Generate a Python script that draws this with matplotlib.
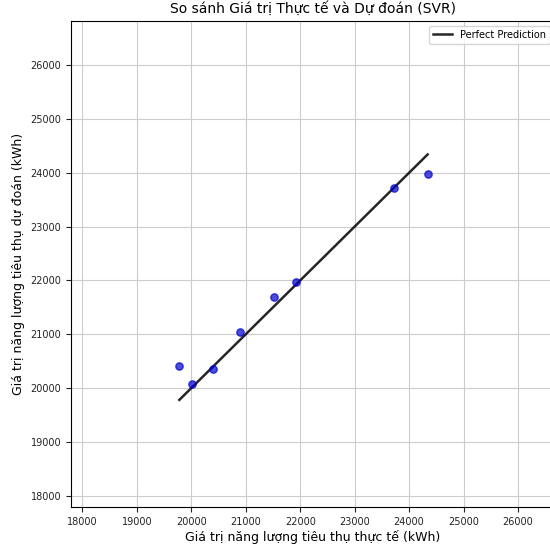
import matplotlib.pyplot as plt

# Gia tri thuc te va du doan (SVR)
y_actual = [19780, 20020, 20390, 20900, 21525, 21915, 23720, 24340]
y_pred = [20410, 20075, 20345, 21045, 21690, 21975, 23715, 23975]

ticks = [18000, 19000, 20000, 21000, 22000, 23000, 24000, 25000, 26000]

fig = plt.figure(figsize=(5.5, 5.44), dpi=100)
ax = fig.add_axes([71 / 550, 37 / 544, 484 / 550, 486 / 544])

ax.scatter(y_actual, y_pred, color="mediumblue", alpha=0.7, s=28, zorder=3)
lo, hi = min(y_actual), max(y_actual)
ax.plot([lo, hi], [lo, hi], color="black", lw=1.8, alpha=0.85, label="Perfect Prediction")

ax.set_xlim(17790, 26680)
ax.set_ylim(17790, 26820)
ax.set_xticks(ticks)
ax.set_yticks(ticks)
ax.tick_params(labelsize=7, colors="#222222")
ax.grid(True, color="#cccccc", lw=0.8)

ax.set_title("So sánh Giá trị Thực tế và Dự đoán (SVR)", fontsize=10)
ax.set_xlabel("Giá trị năng lượng tiêu thụ thực tế (kWh)", fontsize=9, labelpad=2)
ax.set_ylabel("Giá trị năng lượng tiêu thụ dự đoán (kWh)", fontsize=9)
ax.legend(loc="upper right", fontsize=7)

fig.savefig("out.png", dpi=100)
